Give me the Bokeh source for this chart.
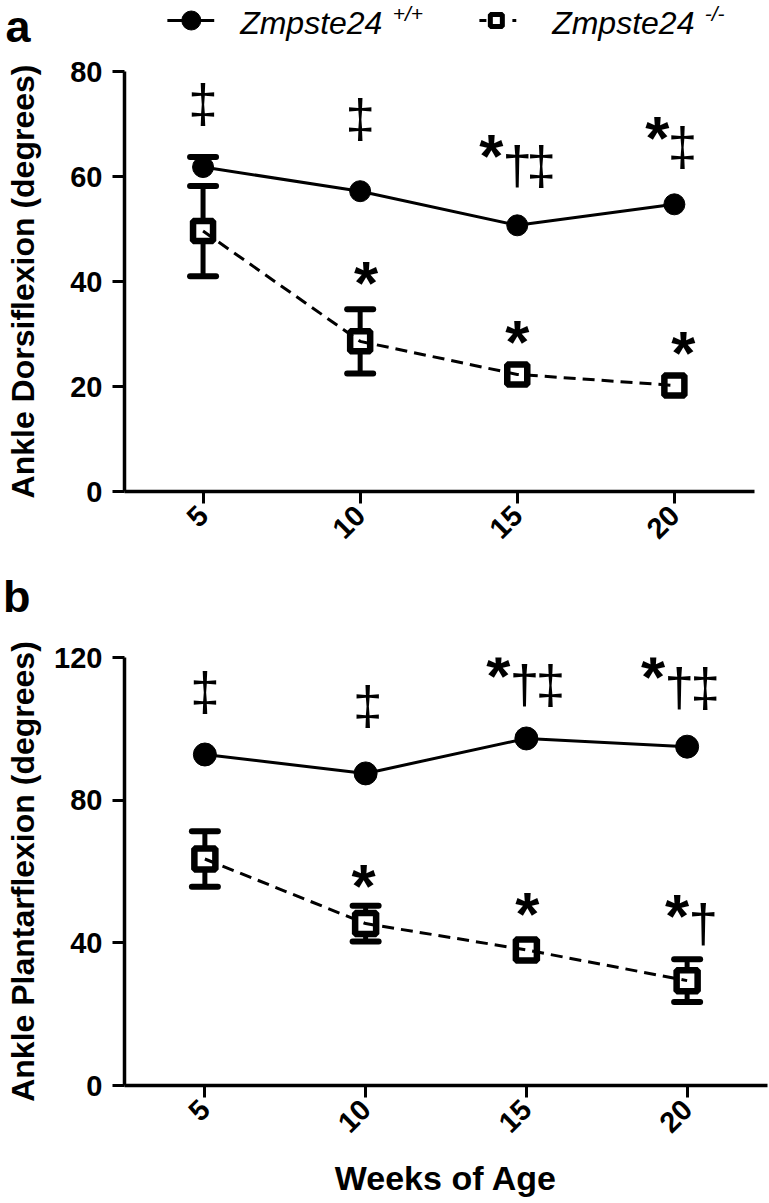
import math
from bokeh.plotting import figure
from bokeh.layouts import column
from bokeh.models import Range1d, FixedTicker, Whisker, TeeHead, ColumnDataSource
from bokeh.core.properties import value
from bokeh.embed import file_html
from bokeh.resources import INLINE

# ---------------- data ----------------
weeks = [5, 10, 15, 20]
week_labels = ["5", "10", "15", "20"]
legend_name = "Zmpste24"
legend_sups = ["+/+", "-/-"]
panel_letters = ["a", "b"]

dorsi_wt_mean = [61.8, 57.2, 50.7, 54.7]
dorsi_wt_sem = [1.9, 0.9, 0.9, 0.9]
dorsi_ko_mean = [49.6, 28.6, 22.3, 20.2]
dorsi_ko_sem = [8.6, 6.1, 1.3, 1.0]

plantar_wt_mean = [92.8, 87.5, 97.3, 95.0]
plantar_wt_sem = [1.6, 1.6, 1.6, 1.6]
plantar_ko_mean = [63.5, 45.4, 38.0, 29.4]
plantar_ko_sem = [7.8, 5.0, 1.8, 6.0]

# significance markers (week, height in axis units, symbol)
dorsi_sig_week = [5, 10, 15, 15, 15, 20, 20, 10, 15, 20]
dorsi_sig_y = [73.3, 70.4, 65.3, 61.6, 61.6, 68.7, 65.2, 41.1, 30.0, 27.8]
dorsi_sig_text = ["‡", "‡", "*", "†", "‡", "*", "‡", "*", "*", "*"]

plantar_sig_week = [5, 10, 15, 15, 15, 20, 20, 20, 10, 15, 20, 20]
plantar_sig_y = [109.7, 105.8, 117.0, 111.7, 111.7, 116.5, 110.8, 110.8, 58.1, 50.1, 49.6, 44.6]
plantar_sig_text = ["‡", "‡", "*", "†", "‡", "*", "†", "‡", "*", "*", "*", "†"]

# ---------------- styles ----------------
FONT = "Liberation Sans"
dorsi_sig_dx = [0, 0, -26, 0, 24, -17, 8, 6, 0, 9]
plantar_sig_dx = [0, 2, -28, -2, 24, -34, -8, 18, -2, 1, -10, 16]
STAR_SIZE, STAR_DY = "62px", 7
DAG_SIZE, DAG_DY = "53px", -3
LEFT = 122
HDR_H, MID_H = 52, 74


def style_axes(p):
    for ax in p.axis:
        ax.axis_line_width = 3.5
        ax.axis_line_color = "black"
        ax.major_tick_line_width = 3
        ax.major_tick_line_color = "black"
        ax.major_tick_out = 12
        ax.major_tick_in = 0
        ax.minor_tick_out = 0
        ax.minor_tick_in = 0
        ax.major_label_text_font = FONT
        ax.major_label_text_font_style = "bold"
        ax.major_label_text_font_size = "29px"
        ax.major_label_text_color = "black"
        ax.axis_label_text_font = FONT
        ax.axis_label_text_font_style = "bold"
        ax.axis_label_text_color = "black"


def strip(height, letter, letter_y):
    """A frameless row (x in page pixels, y in pixels up from its bottom) whose
    only axis tick label is the panel letter."""
    s = figure(width=769, height=height, x_range=Range1d(LEFT, 767), y_range=Range1d(0, height),
               output_backend="svg", toolbar_location=None, min_border_left=LEFT,
               min_border_right=2, min_border_top=0, min_border_bottom=0,
               x_axis_location=None, y_axis_location="left")
    s.grid.visible = False
    s.outline_line_color = None
    s.yaxis.ticker = FixedTicker(ticks=[letter_y])
    s.yaxis.major_label_overrides = {letter_y: letter}
    s.yaxis.axis_line_color = None
    s.yaxis.major_tick_line_color = None
    s.yaxis.minor_tick_line_color = None
    s.yaxis.major_tick_out = 0
    s.yaxis.major_tick_in = 0
    s.yaxis.major_label_standoff = 94
    s.yaxis.major_label_text_font = FONT
    s.yaxis.major_label_text_font_style = "bold"
    s.yaxis.major_label_text_font_size = "45px"
    s.yaxis.major_label_text_color = "black"
    return s


def panel(width, height, top, bottom, x_end, y_max, y_ticks, wt_mean, wt_sem,
          ko_mean, ko_sem, sig_week, sig_y, sig_text, sig_dx, ylabel, ylabel_standoff,
          circ_size, sq_size, xlabel=None):
    p = figure(width=width, height=height, x_range=Range1d(2.5, x_end),
               y_range=Range1d(0, y_max), output_backend="svg", toolbar_location=None,
               min_border_left=LEFT, min_border_right=2, min_border_top=top,
               min_border_bottom=bottom)
    p.grid.visible = False
    p.outline_line_color = None
    p.xaxis.ticker = FixedTicker(ticks=weeks)
    p.xaxis.major_label_overrides = {w: l for w, l in zip(weeks, week_labels)}
    p.yaxis.ticker = FixedTicker(ticks=y_ticks)
    p.xaxis.major_label_orientation = math.pi / 4
    style_axes(p)
    p.yaxis.major_label_standoff = 10
    p.xaxis.major_label_standoff = 7
    p.yaxis.axis_label = ylabel
    p.yaxis.axis_label_text_font_size = "32px"
    p.yaxis.axis_label_standoff = ylabel_standoff
    if xlabel:
        p.xaxis.axis_label = xlabel
        p.xaxis.axis_label_text_font_size = "34px"
        p.xaxis.axis_label_standoff = 15

    ppu = (height - top - bottom) / y_max  # pixels per axis unit

    # error bars: wild type upward only, knockout both ways;
    # hidden behind the symbol when shorter than it, as in the original
    for mean, sem, half, both in ((wt_mean, wt_sem, circ_size / 2, False),
                                  (ko_mean, ko_sem, (sq_size + 6.5) / 2, True)):
        keep = [i for i, s in enumerate(sem) if s * ppu > half - 1]
        src = ColumnDataSource(dict(x=[weeks[i] for i in keep],
                                    upper=[mean[i] + sem[i] for i in keep],
                                    lower=[mean[i] - sem[i] if both else mean[i] for i in keep]))
        head = dict(size=26, line_width=6, line_color="black", line_cap="round")
        w = Whisker(source=src, base="x", upper="upper", lower="lower",
                    line_width=5, line_color="black", level="underlay",
                    upper_head=TeeHead(**head),
                    lower_head=TeeHead(**head) if both else None)
        p.add_layout(w)

    # wild type
    p.line(weeks, wt_mean, line_width=3, line_color="black")
    p.scatter(weeks, wt_mean, marker="circle", size=circ_size, fill_color="black",
              line_color="black")
    # knockout
    p.scatter(weeks, ko_mean, marker="square", size=sq_size, fill_color="white",
              line_color="black", line_width=6.5)
    p.line(weeks, ko_mean, line_width=3, line_color="black", line_dash="12 7")

    stars = [i for i, t in enumerate(sig_text) if t == "*"]
    dags = [i for i, t in enumerate(sig_text) if t != "*"]
    p.text(x=[sig_week[i] for i in stars], y=[sig_y[i] for i in stars],
           text=[sig_text[i] for i in stars], x_offset=[sig_dx[i] for i in stars],
           y_offset=STAR_DY, text_font=value(FONT), text_font_style="bold",
           text_font_size=STAR_SIZE, text_align="center", text_baseline="alphabetic",
           text_color="black")
    p.text(x=[sig_week[i] for i in dags], y=[sig_y[i] for i in dags],
           text=[sig_text[i] for i in dags], x_offset=[sig_dx[i] for i in dags],
           y_offset=DAG_DY, text_font=value(FONT), text_font_style="normal",
           text_font_size=DAG_SIZE, text_align="center", text_baseline="alphabetic",
           text_color="black")
    return p


# ---------------- header: letter a + legend ----------------
hdr = strip(HDR_H, panel_letters[0], 27)
LY = HDR_H - 20   # legend row, 20 px below the top
hdr.segment(x0=[165], y0=[LY], x1=[212], y1=[LY], line_width=3, line_color="black")
hdr.scatter(x=[189], y=[LY], marker="circle", size=19, fill_color="black", line_color="black")
hdr.segment(x0=[478], y0=[LY], x1=[515], y1=[LY], line_width=3, line_color="black",
            line_dash="7 26")
hdr.scatter(x=[495], y=[LY], marker="square", size=12, fill_color="white",
            line_color="black", line_width=5)
hdr.text(x=[238, 551], y=[HDR_H - 22] * 2, text=[legend_name, legend_name],
         text_font=value(FONT), text_font_style="italic", text_font_size="32px",
         text_baseline="alphabetic", text_align="left", text_color="black")
hdr.text(x=[391, 704], y=[HDR_H - 13] * 2, text=legend_sups, text_font=value(FONT),
         text_font_style="italic", text_font_size="21px", text_baseline="alphabetic",
         text_align="left", text_color="black")

pa = panel(756, 505, 19, 66, 22.55, 80, [0, 20, 40, 60, 80],
           dorsi_wt_mean, dorsi_wt_sem, dorsi_ko_mean, dorsi_ko_sem,
           dorsi_sig_week, dorsi_sig_y, dorsi_sig_text, dorsi_sig_dx,
           "Ankle Dorsiflexion (degrees)", 26, 21, 20)

mid = strip(MID_H, panel_letters[1], 35)

pb = panel(769, 569, 26, 115, 22.5, 120, [0, 40, 80, 120],
           plantar_wt_mean, plantar_wt_sem, plantar_ko_mean, plantar_ko_sem,
           plantar_sig_week, plantar_sig_y, plantar_sig_text, plantar_sig_dx,
           "Ankle Plantarflexion (degrees)", 10, 23, 21, xlabel="Weeks of Age")

layout = column(hdr, pa, mid, pb)
open("out.html", "w").write(file_html(layout, INLINE))
